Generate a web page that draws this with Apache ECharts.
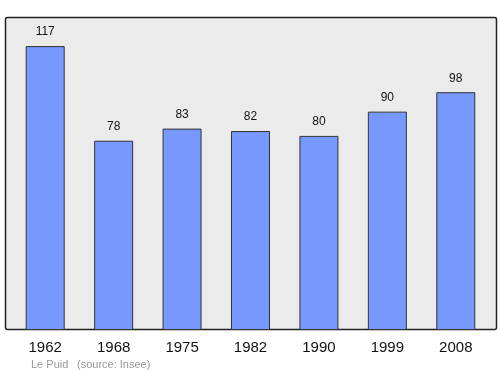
<!DOCTYPE html>
<html><head><meta charset="utf-8">
<script src="https://cdn.jsdelivr.net/npm/echarts@6/dist/echarts.min.js"></script>
<style>html,body{margin:0;padding:0;background:#fff}#c{width:500px;height:374px}</style>
</head><body><div id="c"></div>
<script>
const categories = ['1962','1968','1975','1982','1990','1999','2008'];
const values = [117, 78, 83, 82, 80, 90, 98];
const FONT = '"Liberation Sans", Arial, sans-serif';
const chart = echarts.init(document.getElementById('c'), null, {renderer:'canvas'});
chart.setOption({
  animation:false,
  graphic:[
    {type:'rect', shape:{x:5.5,y:17.5,width:491,height:312,r:2}, style:{fill:'#ebebeb',stroke:'#222',lineWidth:1.5}, z:-1},
    {type:'text', left:31, top:359, style:{text:'Le Puid', fill:'#999', font:'11px ' + FONT}},
    {type:'text', left:77, top:359, style:{text:'(source: Insee)', fill:'#999', font:'11px ' + FONT}}
  ],
  grid:{left:11, width:479, top:17, height:313, containLabel:false},
  xAxis:{type:'category', data:categories, axisLine:{show:false}, axisTick:{show:false},
    axisLabel:{color:'#111', fontSize:15, fontFamily:FONT, margin:10}},
  yAxis:{type:'value', min:0, max:129, show:false, splitLine:{show:false}},
  series:[{type:'bar', data:values, barWidth:'57%',
    itemStyle:{color:'#7799ff', borderColor:'#333', borderWidth:1},
    label:{show:true, position:'top', distance:8, color:'#111', fontSize:12, fontFamily:FONT}}]
});
</script></body></html>
